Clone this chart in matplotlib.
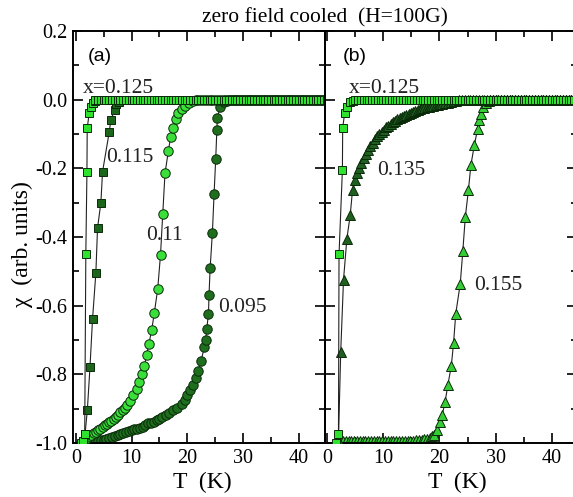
import matplotlib
matplotlib.use("Agg")
import matplotlib.pyplot as plt
from matplotlib.ticker import FixedLocator, MultipleLocator

# ---------------- data ----------------
# common temperature scan points on the flat (chi ~ 0) part
T_flat = [2.0, 2.5, 3.0, 3.5, 4.0, 4.5, 5.0, 5.5, 6.0, 6.5, 7.0, 7.5, 8.0, 8.5, 9.0,
          9.5, 10.0, 10.5, 11.0, 11.5, 12.0, 12.5, 13.0, 13.5, 14.0, 14.5, 15.0, 15.5,
          16.0, 16.5, 17.0, 17.5, 18.0, 18.5, 19.0, 19.5, 20.0, 20.5, 21.0, 21.5, 22.0,
          22.5, 23.0, 23.5, 24.0, 24.5, 25.0, 25.5, 26.0, 26.5, 27.0, 27.5, 28.0, 28.5,
          29.0, 29.5, 30.0, 30.5, 31.0, 31.5, 32.0, 32.5, 33.0, 33.5, 34.0, 34.5, 35.0,
          35.5, 36.0, 36.5, 37.0, 37.5, 38.0, 38.5, 39.0, 39.5, 40.0, 40.5, 41.0, 41.5,
          42.0, 42.5, 43.0, 43.5, 44.0, 44.5, 45.0]
chi_flat = 0.0

# panel (a)
T_a125 = [1.0, 1.3, 1.6, 1.8, 2.0, 2.05, 2.4, 2.7, 3.0, 3.4]
chi_a125 = [-1.0, -0.995, -0.975, -0.45, -0.21, -0.083, -0.04, -0.02, -0.01, -0.004]

T_a115 = [1.3, 1.65, 2.07, 2.55, 3.0, 3.6, 3.9, 4.5, 4.8, 6.0, 6.3, 7.0, 7.3, 7.8, 8.3]
chi_a115 = [-0.995, -0.975, -0.905, -0.778, -0.64, -0.505, -0.374, -0.30, -0.21,
            -0.094, -0.058, -0.03, -0.012, -0.006, -0.002]

T_a110 = [1.6, 2.0, 2.4, 2.8, 3.2, 3.6, 4.0, 4.4, 4.8, 5.2, 5.6, 6.0, 6.4, 6.8, 7.2,
          7.6, 8.0, 8.4, 8.8, 9.2, 9.7, 10.3, 10.9, 11.4, 11.8, 12.3, 12.7, 13.1, 13.6,
          14.1, 14.7, 15.2, 15.6, 16.0, 16.6, 17.0, 17.5, 17.9, 18.4, 19.0, 19.6, 20.3, 21.0]
chi_a110 = [-0.99, -0.985, -0.98, -0.976, -0.972, -0.967, -0.962, -0.958, -0.954, -0.949,
            -0.945, -0.94, -0.935, -0.93, -0.925, -0.918, -0.911, -0.904, -0.897, -0.89,
            -0.878, -0.861, -0.843, -0.822, -0.80, -0.775, -0.744, -0.712, -0.672, -0.62,
            -0.55, -0.451, -0.332, -0.215, -0.15, -0.11, -0.082, -0.055, -0.04, -0.026,
            -0.017, -0.009, -0.004]

T_a095 = [1.6, 2.0, 2.5, 3.0, 3.5, 4.0, 4.5, 5.0, 5.5, 6.0, 6.5, 7.0, 7.5, 8.0, 8.5,
          9.0, 9.5, 10.0, 10.5, 11.0, 11.5, 12.0, 12.5, 13.0, 13.5, 14.0, 14.5, 15.0,
          15.5, 16.1, 16.8, 17.5, 18.2, 19.0, 19.5, 20.0, 20.5, 21.0, 21.5, 22.0, 22.5,
          23.05, 23.3, 23.5, 23.8, 23.9, 24.1, 24.5, 24.8, 25.1, 25.3, 25.4, 25.9, 26.5, 27.2]
chi_a095 = [-1.0, -0.999, -0.998, -0.997, -0.996, -0.994, -0.992, -0.99, -0.989, -0.986,
            -0.983, -0.98, -0.977, -0.974, -0.972, -0.969, -0.966, -0.963, -0.96, -0.958,
            -0.955, -0.952, -0.948, -0.943, -0.941, -0.938, -0.934, -0.93, -0.925, -0.919,
            -0.913, -0.905, -0.897, -0.887, -0.875, -0.86, -0.845, -0.83, -0.81, -0.79,
            -0.76, -0.72, -0.699, -0.667, -0.623, -0.568, -0.49, -0.388, -0.276, -0.172,
            -0.089, -0.052, -0.021, -0.008, -0.003]

# panel (b)
T_b125 = [1.5, 2.0, 2.1, 2.7, 2.75, 3.1, 3.5, 4.0, 4.6]
chi_b125 = [-1.0, -0.975, -0.45, -0.205, -0.082, -0.04, -0.02, -0.008, -0.003]

T_b135 = [1.8, 2.0, 2.4, 2.9, 3.5, 4.1, 4.5, 4.9, 5.3, 5.7, 6.1, 6.5, 6.9, 7.3, 7.7,
          8.1, 8.5, 8.9, 9.3, 9.7, 10.1, 10.5, 10.9, 11.3, 11.7, 12.1, 12.5, 12.9, 13.3,
          13.7, 14.1, 14.5, 14.9, 15.3, 15.7, 16.1, 16.5, 16.9, 17.3, 17.7, 18.1, 18.5,
          18.9, 19.3, 19.7, 20.1, 20.5, 21.0, 21.5, 22.0, 22.5, 23.0]
chi_b135 = [-1.0, -0.99, -0.735, -0.524, -0.405, -0.335, -0.264, -0.235, -0.214, -0.198,
            -0.184, -0.169, -0.157, -0.146, -0.136, -0.125, -0.114, -0.106, -0.099, -0.093,
            -0.087, -0.081, -0.076, -0.071, -0.066, -0.062, -0.057, -0.053, -0.050, -0.047,
            -0.044, -0.041, -0.038, -0.035, -0.032, -0.029, -0.027, -0.025, -0.023, -0.021,
            -0.020, -0.019, -0.018, -0.016, -0.015, -0.014, -0.013, -0.011, -0.009, -0.007,
            -0.005, -0.003]

T_b155 = [1.8, 2.3, 2.8, 3.3, 3.8, 4.3, 4.8, 5.3, 5.8, 6.3, 6.8, 7.3, 7.8, 8.3, 8.8,
          9.3, 9.8, 10.3, 10.8, 11.3, 11.8, 12.3, 12.8, 13.3, 13.8, 14.3, 14.8, 15.3,
          15.8, 16.3, 16.8, 17.3, 17.8, 18.3, 18.7, 19.1, 19.6, 20.1, 20.5, 21.0, 21.5,
          22.1, 22.5, 22.9, 23.7, 24.15, 24.6, 25.15, 25.6, 26.2, 26.8, 27.1, 27.4, 27.8,
          28.3, 28.8]
chi_b155 = [-0.995, -0.995, -0.995, -0.995, -0.995, -0.995, -0.995, -0.995, -0.995,
            -0.995, -0.995, -0.995, -0.995, -0.995, -0.995, -0.995, -0.995, -0.995,
            -0.995, -0.995, -0.995, -0.995, -0.995, -0.994, -0.994, -0.994, -0.993,
            -0.993, -0.992, -0.991, -0.99, -0.989, -0.987, -0.984, -0.98, -0.977, -0.963,
            -0.94, -0.917, -0.88, -0.83, -0.776, -0.71, -0.623, -0.536, -0.442, -0.342,
            -0.264, -0.19, -0.133, -0.085, -0.06, -0.041, -0.021, -0.01, -0.004]

yticks = [-1.0, -0.8, -0.6, -0.4, -0.2, 0.0, 0.2]
ytick_labels = ["-1.0", "-0.8", "-0.6", "-0.4", "-0.2", "0.0", "0.2"]
xticks = [0, 10, 20, 30, 40]
xtick_labels = ["0", "10", "20", "30", "40"]

# ---------------- style ----------------
SERIF = "Liberation Serif"
SANS = "Liberation Sans"
light_sq = "#2ee22e"
dark_sq = "#1b661b"
light_ci = "#3adf3a"
dark_ci = "#1e6e1e"
dark_tr = "#1f5f1f"
light_tr = "#35cc35"

W, H = 573, 497
fig = plt.figure(figsize=(W / 100, H / 100), dpi=100)
ax_a = fig.add_axes([73 / W, 54 / H, 252 / W, 412 / H])
ax_b = fig.add_axes([325 / W, 54 / H, 252 / W, 412 / H])


def series(ax, T, chi, marker, color, ms, z):
    TT = list(T) + [t for t in T_flat if t > max(T)]
    CC = list(chi) + [chi_flat for t in T_flat if t > max(T)]
    ax.plot(TT, CC, color="#222222", lw=0.8, marker=marker, ms=ms,
            mfc=color, mec="#0a2a0a", mew=0.7, zorder=z)


series(ax_a, T_a095, chi_a095, "o", dark_ci, 6.8, 2)
series(ax_a, T_a110, chi_a110, "o", light_ci, 6.8, 3)
series(ax_a, T_a115, chi_a115, "s", dark_sq, 5.8, 4)
series(ax_a, T_a125, chi_a125, "s", light_sq, 5.8, 5)

series(ax_b, T_b155, chi_b155, "^", light_tr, 7.2, 2)
series(ax_b, T_b135, chi_b135, "^", dark_tr, 7.2, 3)
series(ax_b, T_b125, chi_b125, "s", light_sq, 5.8, 5)

for ax, xl in ((ax_a, (-0.5, 44.7)), (ax_b, (-0.4, 44.5))):
    ax.set_xlim(*xl)
    ax.set_ylim(-1.0, 0.2)
    ax.xaxis.set_major_locator(FixedLocator(xticks))
    ax.xaxis.set_minor_locator(MultipleLocator(5))
    ax.yaxis.set_major_locator(FixedLocator(yticks))
    ax.yaxis.set_minor_locator(MultipleLocator(0.1))
    ax.tick_params(which="both", direction="in", top=True, right=True, width=1.2,
                   labelsize=14.5, pad=4)
    ax.tick_params(which="major", length=7.5)
    ax.tick_params(which="minor", length=4)
    ax.set_xticklabels(xtick_labels, fontfamily=SERIF)
    for s in ax.spines.values():
        s.set_linewidth(1.4)
    ax.set_facecolor("none")

ax_a.set_yticklabels(ytick_labels, fontfamily=SERIF)
ax_b.set_yticklabels([])

# annotations
txt = dict(fontfamily=SERIF, fontsize=15.5, color="#222222", ha="left", va="baseline")
ax_a.text(1.3, 0.018, "x=0.125", **txt)
ax_a.text(5.4, -0.183, "0.115", **txt)
ax_a.text(12.7, -0.41, "0.11", **txt)
ax_a.text(25.6, -0.618, "0.095", **txt)
ax_b.text(3.9, 0.02, "x=0.125", **txt)
ax_b.text(8.8, -0.22, "0.135", **txt)
ax_b.text(26.2, -0.555, "0.155", **txt)

ax_a.text(2.2, 0.126, "(a)", fontfamily=SANS, fontsize=14, ha="left", va="center")
ax_b.text(2.8, 0.126, "(b)", fontfamily=SANS, fontsize=14, ha="left", va="center")

fig.text(325 / W, 1 - 22 / H, "zero field cooled  (H=100G)", fontfamily=SERIF,
         fontsize=15.5, ha="center", va="baseline")
fig.text(22 / W, 1 - 244 / H, "\u03c7  (arb. units)", fontfamily=SERIF, fontsize=17,
         rotation=90, ha="center", va="center")
fig.text(202.5 / W, 1 - 488 / H, "T  (K)", fontfamily=SERIF, fontsize=17,
         ha="center", va="baseline")
fig.text(457.5 / W, 1 - 488 / H, "T  (K)", fontfamily=SERIF, fontsize=17,
         ha="center", va="baseline")

fig.savefig("out.png", dpi=100)
